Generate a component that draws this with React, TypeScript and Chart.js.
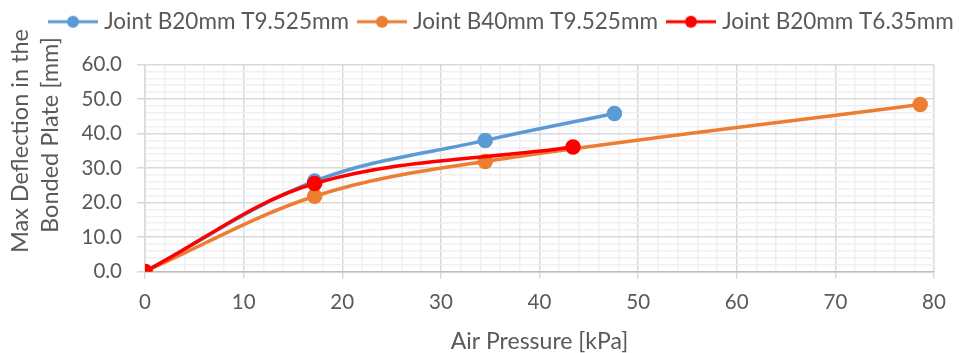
import React, { useEffect, useRef } from "react";
import { Chart, registerables } from "chart.js";

Chart.register(...registerables);

const seriesNames = ["Joint B20mm T9.525mm", "Joint B40mm T9.525mm", "Joint B20mm T6.35mm"];
const seriesColors = ["#5B9BD5", "#ED7D31", "#FF0000"];

const blueX = [0, 17.2, 34.5, 47.6];
const blueY = [0, 26.2, 38.0, 45.8];
const orangeX = [0, 17.2, 34.5, 78.6];
const orangeY = [0, 21.8, 31.9, 48.4];
const redX = [0, 17.2, 43.4];
const redY = [0, 25.5, 36.1];

const xTitle = "Air Pressure [kPa]";
const yTitle = ["Max Deflection in the", "Bonded Plate [mm]"];

const FONT = "Lato, 'Open Sans', sans-serif";
const TEXT = "#595959";

function toPoints(xs: number[], ys: number[]) {
  return xs.map((x, i) => ({ x, y: ys[i] }));
}

function legendImage(color: string) {
  const c = document.createElement("canvas");
  c.width = 50;
  c.height = 14;
  const ctx = c.getContext("2d")!;
  ctx.strokeStyle = color;
  ctx.lineWidth = 3;
  ctx.beginPath();
  ctx.moveTo(0, 7);
  ctx.lineTo(50, 7);
  ctx.stroke();
  ctx.fillStyle = color;
  ctx.beginPath();
  ctx.arc(25, 7, 6, 0, Math.PI * 2);
  ctx.fill();
  return c;
}

const legendPlacer = {
  id: "legendPlacer",
  beforeLayout(chart: any) {
    const lg = chart.legend;
    if (lg && !lg.__patched) {
      const orig = lg.fit;
      lg.fit = function () {
        this.maxWidth = 3000;
        orig.call(this);
        this.width = Math.min(this.width, chart.width);
      };
      lg.__patched = true;
    }
  },
  afterLayout(chart: any) {
    const lg = chart.legend;
    if (!lg) return;
    const h = lg.height;
    lg.left = 40;
    lg.right = 1400;
    lg.width = 1360;
    lg.top = -2.5;
    lg.bottom = lg.top + h;
  },
};

// Y-axis title, drawn as two rotated text lines left of the y scale
const yTitlePlugin = {
  id: "yTitlePlugin",
  afterDraw(chart: any) {
    const ctx = chart.ctx;
    const area = chart.chartArea;
    const cy = (area.top + area.bottom) / 2;
    const lines = [
      { text: yTitle[0], x: 20, y: cy - 27 },
      { text: yTitle[1], x: 50, y: cy - 33 },
    ];
    ctx.save();
    ctx.fillStyle = TEXT;
    ctx.font = `23.5px ${FONT}`;
    ctx.textAlign = "center";
    ctx.textBaseline = "middle";
    for (const l of lines) {
      ctx.save();
      ctx.translate(l.x, l.y);
      ctx.rotate(-Math.PI / 2);
      ctx.fillText(l.text, 0, 0);
      ctx.restore();
    }
    ctx.restore();
  },
};

export default function App() {
  const ref = useRef<HTMLCanvasElement | null>(null);

  useEffect(() => {
    if (!ref.current) return;
    const images = seriesColors.map(legendImage);
    const datasets = [
      { data: toPoints(blueX, blueY), order: 2 },
      { data: toPoints(orangeX, orangeY), order: 1 },
      { data: toPoints(redX, redY), order: 0 },
    ].map((d, i) => ({
      label: seriesNames[i],
      data: d.data,
      order: d.order,
      borderColor: seriesColors[i],
      backgroundColor: seriesColors[i],
      pointBackgroundColor: seriesColors[i],
      pointBorderColor: seriesColors[i],
      borderWidth: 3.5,
      pointRadius: 6,
      tension: 0.35,
      showLine: true,
      fill: false,
    }));

    const chart = new Chart(ref.current, {
      type: "scatter",
      data: { datasets },
      plugins: [legendPlacer, yTitlePlugin],
      options: {
        animation: false,
        responsive: false,
        layout: { padding: { top: 19, right: 26, left: 0, bottom: 0 } },
        plugins: {
          tooltip: { enabled: false },
          legend: {
            position: "top",
            align: "start",
            labels: {
              usePointStyle: true,
              pointStyleWidth: 40,
              padding: 13,
              color: TEXT,
              font: { family: FONT, size: 22.5 },
              generateLabels: () =>
                seriesNames.map((n, i) => ({
                  text: n,
                  fillStyle: seriesColors[i],
                  strokeStyle: seriesColors[i],
                  fontColor: TEXT,
                  pointStyle: images[i],
                  lineWidth: 0,
                  hidden: false,
                  datasetIndex: i,
                })),
            },
          },
        },
        scales: {
          x: {
            type: "linear",
            min: 0,
            max: 80,
            afterFit: (s: any) => {
              s.height = 81.5;
            },
            ticks: {
              stepSize: 2,
              autoSkip: false,
              maxRotation: 0,
              padding: 12,
              color: TEXT,
              font: { family: FONT, size: 20.5 },
              callback: (v: any) => (Math.round(v) % 10 === 0 ? String(v) : ""),
            },
            grid: {
              color: (c: any) => (Math.round(c.tick.value) % 10 === 0 ? "#d9d9d9" : "#f0f0f0"),
              tickColor: (c: any) => (Math.round(c.tick.value) % 10 === 0 ? "#d9d9d9" : "rgba(0,0,0,0)"),
              tickLength: 7,
              lineWidth: 1.5,
            },
            border: { color: "#bfbfbf", width: 1.5 },
            title: {
              display: true,
              text: xTitle,
              color: TEXT,
              font: { family: FONT, size: 23, lineHeight: 1.0 },
              padding: { top: 0, bottom: 0 },
            },
          },
          y: {
            type: "linear",
            min: 0,
            max: 60,
            afterFit: (s: any) => {
              s.width = 145;
            },
            ticks: {
              stepSize: 2,
              autoSkip: false,
              padding: 15,
              color: TEXT,
              font: { family: FONT, size: 20.5 },
              callback: (v: any) => (Math.round(v) % 10 === 0 ? Number(v).toFixed(1) : ""),
            },
            grid: {
              color: (c: any) => (Math.round(c.tick.value) % 10 === 0 ? "#d9d9d9" : "#f0f0f0"),
              tickColor: (c: any) => (Math.round(c.tick.value) % 10 === 0 ? "#d9d9d9" : "rgba(0,0,0,0)"),
              tickLength: 8,
              lineWidth: 1.5,
            },
            border: { color: "#d9d9d9", width: 1.5 },
            title: { display: false },
          },
        },
      },
    } as any);
    return () => chart.destroy();
  }, []);

  return (
    <div style={{ position: "absolute", left: 0, top: 0, width: 960, height: 353, background: "#fff" }}>
      <canvas ref={ref} width={960} height={353} style={{ display: "block" }} />
    </div>
  );
}
